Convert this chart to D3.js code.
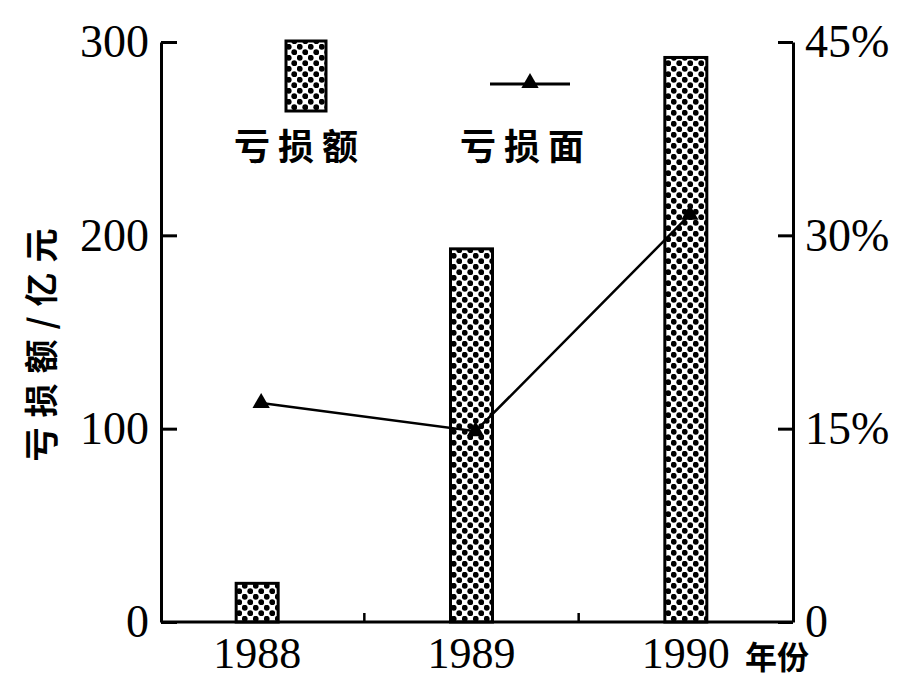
<!DOCTYPE html>
<html>
<head>
<meta charset="utf-8">
<script src="https://cdn.jsdelivr.net/npm/d3@7"></script>
<style>
  body { margin: 0; background: #fff; }
  svg { display: block; }
</style>
</head>
<body>
<svg></svg>
<script>
"use strict"
// dati
const anni = ["1988", "1989", "1990"];
const perdite = [20, 193, 292];       // 亏损额, 亿元
const quote = [17.0, 14.8, 31.6];     // 亏损面, %
const tickSinistra = [0, 100, 200, 300];
const tickDestra = [0, 15, 30, 45];

const grafico = { w: 897, h: 679 };
const fontNumeri = "'Liberation Serif', 'DejaVu Serif', serif";
const fontCinese = "'Noto Sans CJK SC', sans-serif";

const svg = d3.select("svg")
    .attr("width", grafico.w)
    .attr("height", grafico.h);

const asseSx = 161, asseDx = 793, base = 622, cima = 42;

// trama a puntini per le barre
const defs = svg.append("defs");
const trama = defs.append("pattern")
    .attr("id", "puntini")
    .attr("patternUnits", "userSpaceOnUse")
    .attr("width", 11)
    .attr("height", 11);
trama.append("rect").attr("width", 11).attr("height", 11).attr("fill", "#fff");
trama.append("circle").attr("cx", 2.75).attr("cy", 2.75).attr("r", 2.9).attr("fill", "#000");
trama.append("circle").attr("cx", 8.25).attr("cy", 8.25).attr("r", 2.9).attr("fill", "#000");

const scalaX = d3.scaleBand()
    .domain(anni)
    .range([150, asseDx]);

const scalaY = d3.scaleLinear()
    .domain([0, 300])
    .range([base, cima]);

const scalaY2 = d3.scaleLinear()
    .domain([0, 45])
    .range([base, cima]);

const larghezzaBarra = 42;

// barre 亏损额
svg.selectAll(".barra")
    .data(perdite)
    .enter()
    .append("rect")
    .attr("class", "barra")
    .attr("x", function (d, i) { return scalaX(anni[i]) + scalaX.bandwidth() / 2 - larghezzaBarra / 2 })
    .attr("y", function (d) { return scalaY(d) })
    .attr("width", larghezzaBarra)
    .attr("height", function (d) { return base - scalaY(d) })
    .attr("fill", "url(#puntini)")
    .attr("stroke", "#000")
    .attr("stroke-width", 3);

// asse sinistro
const asseY = d3.axisLeft(scalaY)
    .tickValues(tickSinistra)
    .tickSizeInner(-16)
    .tickSizeOuter(0)
    .tickPadding(12);

const gSx = svg.append("g")
    .attr("transform", `translate(${asseSx},0)`)
    .call(asseY);

// asse destro
const asseY2 = d3.axisRight(scalaY2)
    .tickValues(tickDestra)
    .tickSizeInner(-15)
    .tickSizeOuter(0)
    .tickPadding(12)
    .tickFormat(function (d) { return d === 0 ? "0" : d + "%" });

const gDx = svg.append("g")
    .attr("transform", `translate(${asseDx},0)`)
    .call(asseY2);

// asse X con tacche tra le categorie
const asseX = d3.axisBottom(scalaX)
    .tickSize(0)
    .tickPadding(15);

const gX = svg.append("g")
    .attr("transform", `translate(0,${base})`)
    .call(asseX);

gX.select(".domain")
    .attr("d", `M${asseSx},0H${asseDx}`);

gX.selectAll(".confine")
    .data(anni.slice(1))
    .enter()
    .append("line")
    .attr("class", "confine")
    .attr("x1", function (d) { return scalaX(d) })
    .attr("x2", function (d) { return scalaX(d) })
    .attr("y1", 0)
    .attr("y2", -9)
    .attr("stroke", "#000")
    .attr("stroke-width", 2.5);

svg.selectAll(".domain, .tick line")
    .attr("stroke", "#000")
    .attr("stroke-width", 3);

svg.selectAll(".tick text")
    .attr("font-family", fontNumeri)
    .attr("font-size", "46px")
    .attr("fill", "#000");

gX.selectAll(".tick text")
    .attr("font-size", "44px")
    .attr("dy", "0.71em");

// 年份
svg.append("text")
    .attr("x", 745)
    .attr("y", 669)
    .attr("font-family", fontCinese)
    .attr("font-size", "32px")
    .attr("font-weight", "bold")
    .text("年份");

// linea 亏损面
const linea = d3.line()
    .x(function (d, i) { return scalaX(anni[i]) + scalaX.bandwidth() / 2 + 4 })
    .y(function (d) { return scalaY2(d) });

svg.append("path")
    .datum(quote)
    .attr("d", linea)
    .attr("fill", "none")
    .attr("stroke", "#000")
    .attr("stroke-width", 2.5);

const triangolo = d3.symbol().type(d3.symbolTriangle).size(130);

svg.selectAll(".punto")
    .data(quote)
    .enter()
    .append("path")
    .attr("class", "punto")
    .attr("d", triangolo)
    .attr("transform", function (d, i) {
        return `translate(${scalaX(anni[i]) + scalaX.bandwidth() / 2 + 4},${scalaY2(d)})`
    })
    .attr("fill", "#000");

// legenda
svg.append("rect")
    .attr("x", 286)
    .attr("y", 41)
    .attr("width", 40)
    .attr("height", 70)
    .attr("fill", "url(#puntini)")
    .attr("stroke", "#000")
    .attr("stroke-width", 3);

svg.append("line")
    .attr("x1", 490)
    .attr("x2", 570)
    .attr("y1", 84)
    .attr("y2", 84)
    .attr("stroke", "#000")
    .attr("stroke-width", 3);

svg.append("path")
    .attr("d", triangolo)
    .attr("transform", "translate(530,83)")
    .attr("fill", "#000");

const legende = [{ t: "亏损额", x: 300 }, { t: "亏损面", x: 526 }];
svg.selectAll(".legenda")
    .data(legende)
    .enter()
    .append("text")
    .attr("class", "legenda")
    .attr("x", function (d) { return d.x })
    .attr("y", 160)
    .attr("text-anchor", "middle")
    .attr("font-family", fontCinese)
    .attr("font-size", "36px")
    .attr("font-weight", "bold")
    .attr("letter-spacing", "8px")
    .text(function (d) { return d.t });

// titolo asse Y
svg.append("text")
    .attr("transform", "translate(54,340) rotate(-90)")
    .attr("text-anchor", "middle")
    .attr("font-family", fontCinese)
    .attr("font-size", "34px")
    .attr("font-weight", "bold")
    .attr("letter-spacing", "10px")
    .text("亏损额/亿元");
</script>
</body>
</html>
